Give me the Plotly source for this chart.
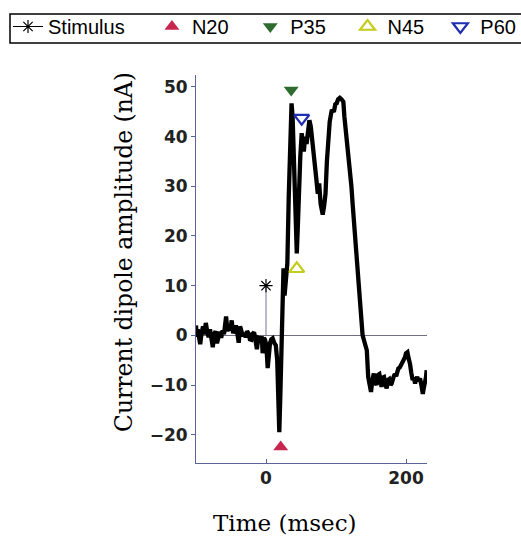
import plotly.graph_objects as go

# Waveform (time in msec, amplitude in nA)
time_ms = [-100, -99, -97.5, -96, -94, -92, -90, -88, -86, -84, -82, -80, -78, -76, -74, -72,
           -70, -68, -66, -64, -62, -60, -58, -57, -55, -53, -51, -49, -47, -45, -43, -41,
           -39, -37, -35, -33, -31, -29, -27, -25, -23, -21, -19, -17, -15, -13, -11, -9.5,
           -8, -6, -4.8, -3, -1.4, 0.5, 2.4, 4, 5.7, 7.5, 9.5, 12, 14, 16, 17.5, 19, 20.5,
           22, 23.5, 25, 26.5, 28, 30.5, 32.5, 34.5, 36.5, 38, 39.5, 41, 42.5, 44, 45.5, 47,
           49, 51, 52.5, 54, 56, 58, 60, 62, 64, 66.5, 69, 72, 74, 76, 78, 80, 81, 83, 85,
           87, 89, 91, 94, 97, 99, 101, 103, 105.5, 108, 110.5, 112, 114, 116, 118, 120, 122,
           124, 126, 128, 130, 132, 134, 136, 138, 140, 142, 144, 146, 148, 150, 152, 154,
           156, 158, 160, 162, 164, 165, 167, 168.6, 170, 172.4, 174, 176, 178, 179.5, 182,
           184, 186, 189, 191, 194, 196, 198.6, 200, 202, 204, 205.7, 207.5, 209.5, 211, 213,
           214.5, 216, 218, 220, 222, 224, 225.5, 227, 228.5, 229.5]
amplitude_nA = [2.0, -0.3, 1.2, -1.0, -1.8, 0.5, 1.8, 0.2, 2.5, 0.8, -0.4, 1.2, -0.5, -2.4, 0.3, 0.8,
                -1.6, -0.2, 0.7, -0.5, 1.0, 0.2, 2.8, 3.8, 0.8, 2.0, 1.0, 3.0, 0.4, 1.5, 2.0, 0.5,
                -1.5, 1.8, 0.8, -0.2, 0.5, -0.4, 0.8, 0.4, -0.8, -0.9, 0.3, 0.6, -1.0, -2.8, -0.5, -0.6,
                -1.5, -0.2, -3.6, -0.5, -0.9, -2.0, -6.6, -3.0, -1.6, -0.8, -0.6, -1.6, -2.0, -5.0, -12.0, -19.5, -12.0,
                0.0, 7.0, 13.5, 8.0, 10.0, 14.5, 28.0, 40.0, 46.7, 44.0, 38.0, 28.0, 20.0, 16.5, 22.0, 30.0,
                36.0, 40.7, 39.0, 37.0, 40.0, 38.5, 41.0, 43.3, 42.0, 38.0, 34.5, 31.3, 28.5, 30.6, 26.5, 25.0, 24.3, 26.0, 28.5,
                35.0, 40.0, 43.0, 45.4, 45.0, 46.5, 46.7, 47.5, 47.8, 47.5, 47.0, 44.0, 41.5, 38.0, 35.5, 33.3, 30.0,
                26.0, 22.0, 19.0, 16.0, 11.0, 6.4, 3.0, 0.0, -1.0, -2.4, -3.0, -8.4, -10.0, -11.4, -9.0, -7.7,
                -9.5, -10.0, -8.0, -7.8, -9.2, -10.4, -8.5, -8.4, -9.5, -10.7, -9.0, -8.8, -10.0, -9.7, -8.5,
                -7.8, -8.2, -6.7, -6.5, -5.7, -5.2, -4.4, -3.6, -3.4, -4.8, -5.7, -7.5, -9.0, -8.5, -9.7,
                -8.8, -8.4, -9.2, -8.7, -10.0, -11.8, -10.5, -9.7, -8.5, -7.0]

# Stimulus and component markers
stim_time = [0, 0]
stim_amp = [0, 10]
peak_names = ["N20", "P35", "N45", "P60"]
peak_time = [21, 36, 44, 51]
peak_amp = [-22.5, 49.4, 13.4, 43.7]
peak_symbols = ["triangle-up", "triangle-down", "triangle-up-open", "triangle-down-open"]
peak_colors = ["#c8264f", "#2e6b2e", "#c4cc1c", "#1f2fb0"]
# non-breaking spaces widen legend entries like the reference layout
legend_pad = [3, 3, 2, 0]

x_ticks = [0, 200]
y_ticks = [-20, -10, 0, 10, 20, 30, 40, 50]

axis_color = "#5a6496"
W, H = 521, 545
PX0, PX1, PY0, PY1 = 196, 427, 75, 463   # plot area in pixels

fig = go.Figure()

fig.add_trace(go.Scatter(x=time_ms, y=amplitude_nA, mode="lines",
                         line=dict(color="black", width=4.3), showlegend=False,
                         hoverinfo="skip"))

fig.add_trace(go.Scatter(x=stim_time, y=stim_amp, mode="lines",
                         line=dict(color="#8a8aa8", width=1.2), showlegend=False,
                         legendgroup="stim"))
fig.add_trace(go.Scatter(x=stim_time[1:], y=stim_amp[1:], mode="lines+markers",
                         name="Stimulus" + "\u00a0" * 4, legendgroup="stim",
                         line=dict(color="black", width=1),
                         marker=dict(symbol="asterisk-open", size=11,
                                     line=dict(color="#333344", width=1.2))))

for name, t, a, sym, col, pad in zip(peak_names, peak_time, peak_amp, peak_symbols,
                                     peak_colors, legend_pad):
    is_open = sym.endswith("open")
    fig.add_trace(go.Scatter(
        x=[t], y=[a], mode="markers", name=name + "\u00a0" * pad,
        marker=dict(symbol=sym, size=13, color=col,
                    line=dict(color=col, width=2.2 if is_open else 0))))

fig.update_layout(
    width=W, height=H,
    margin=dict(l=0, r=0, t=0, b=0),
    paper_bgcolor="white", plot_bgcolor="white",
    font=dict(family="DejaVu Sans", color="black"),
    showlegend=True,
    legend=dict(orientation="h", x=10 / W, y=1 - 7 / H,
                xanchor="left", yanchor="top",
                borderwidth=0, bgcolor="rgba(0,0,0,0)",
                font=dict(family="Liberation Sans", size=20, color="black"),
                tracegroupgap=0),
    shapes=[dict(type="rect", xref="paper", yref="paper",
                 x0=10 / W, x1=540 / W, y0=1 - 43 / H, y1=1 - 14 / H,
                 line=dict(color="black", width=1.5), fillcolor="rgba(0,0,0,0)",
                 layer="below")],
    xaxis=dict(domain=[PX0 / W, PX1 / W], range=[-100, 230], tickvals=x_ticks,
               ticks="inside", ticklen=4,
               tickcolor=axis_color, showline=True, linecolor=axis_color, linewidth=1,
               showgrid=False, zeroline=False,
               tickfont=dict(family="DejaVu Sans", size=17, weight="bold", color="#222")),
    yaxis=dict(domain=[1 - PY1 / H, 1 - PY0 / H], range=[-25.7, 52.4], tickvals=y_ticks,
               ticks="outside", ticklen=4,
               tickcolor=axis_color, showline=True, linecolor=axis_color, linewidth=1,
               showgrid=False, zeroline=True, zerolinecolor="#707080", zerolinewidth=1,
               tickfont=dict(family="DejaVu Sans", size=17, weight="bold", color="#222")),
    annotations=[
        dict(text="Time (msec)", xref="paper", yref="paper",
             x=284 / W, y=1 - 523 / H, showarrow=False,
             xanchor="center", yanchor="middle",
             font=dict(family="DejaVu Serif", size=23, color="black")),
        dict(text="Current dipole amplitude (nA)", xref="paper", yref="paper",
             x=124 / W, y=1 - 252 / H, showarrow=False, textangle=-90,
             xanchor="center", yanchor="middle",
             font=dict(family="DejaVu Serif", size=23.5, color="black")),
    ],
)

fig.write_html("out.html")
